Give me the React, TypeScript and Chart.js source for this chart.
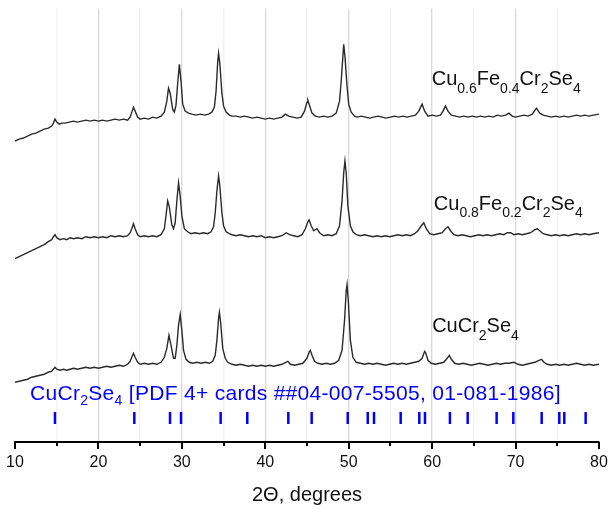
import React, { useEffect, useRef } from "react";
import { Chart, registerables } from "chart.js";
Chart.register(...registerables);

// ---- Data (2θ in degrees, intensity in arbitrary units incl. vertical offset) ----
const TT_A = [10.0,10.5,11.0,11.5,12.0,12.5,13.0,13.5,14.0,14.4,14.6,14.8,15.0,15.3,15.6,16.0,16.5,17.0,17.5,18.0,18.5,19.0,19.5,20.0,20.5,21.0,21.5,22.0,22.5,23.0,23.5,23.8,24.0,24.2,24.4,24.7,25.0,25.5,26.0,26.5,27.0,27.5,27.9,28.2,28.4,28.6,28.9,29.1,29.3,29.5,29.7,29.9,30.1,30.4,30.8,31.2,31.7,32.2,32.7,33.2,33.6,33.9,34.1,34.3,34.4,34.55,34.8,35.0,35.3,35.7,36.0,36.5,37.0,37.5,38.0,38.5,39.0,39.5,40.0,40.5,41.0,41.5,42.0,42.4,42.8,43.3,43.8,44.3,44.7,45.0,45.1,45.3,45.6,46.0,46.5,47.0,47.5,48.0,48.5,48.9,49.1,49.3,49.4,49.55,49.8,50.0,50.3,50.7,51.0,51.5,52.0,52.5,53.0,53.5,54.0,54.5,55.0,55.5,56.0,56.5,57.0,57.5,58.0,58.4,58.8,59.1,59.5,60.0,60.5,61.0,61.3,61.6,61.9,62.3,62.8,63.3,63.8,64.3,64.8,65.3,65.8,66.3,66.8,67.3,67.8,68.3,68.8,69.2,69.6,70.0,70.5,71.0,71.5,72.0,72.5,72.9,73.3,73.8,74.3,74.8,75.3,75.8,76.3,76.8,77.3,77.8,78.3,78.8,79.3,80.0];
const I_A = [302,304,305,307,309,310,312,314,315,317,320,324,321,319,320,320,321,322,321,322,323,322,323,322,323,322,323,324,323,324,323,326,331,336,332,326,324,325,324,326,325,327,331,342,355,350,334,331,338,360,379,362,339,332,330,329,328,329,328,329,331,336,352,382,390,380,350,337,331,328,327,327,326,327,326,325,326,325,324,325,324,325,326,329,327,326,325,326,332,341,343,338,330,327,326,327,326,327,330,342,362,387,399,387,357,339,331,327,326,327,326,325,326,327,326,325,326,327,326,327,326,327,328,332,339,332,327,328,327,328,332,337,332,328,327,326,327,326,327,326,327,326,327,326,328,327,328,330,327,326,327,328,327,329,335,330,328,327,326,327,326,327,326,327,328,327,328,327,328,329];

const TT_B = [10.0,10.5,11.0,11.5,12.0,12.5,13.0,13.5,14.0,14.4,14.6,14.8,15.0,15.4,15.8,16.2,16.6,17.0,17.5,18.0,18.5,19.0,19.5,20.0,20.5,21.0,21.5,22.0,22.5,23.0,23.5,23.8,24.0,24.2,24.4,24.7,25.0,25.5,26.0,26.5,27.0,27.5,27.9,28.1,28.3,28.5,28.8,29.0,29.2,29.4,29.6,29.8,30.0,30.3,30.7,31.1,31.6,32.1,32.6,33.1,33.5,33.8,34.0,34.2,34.4,34.55,34.8,35.0,35.3,35.7,36.0,36.5,37.0,37.5,38.0,38.5,39.0,39.5,40.0,40.5,41.0,41.5,42.0,42.5,42.9,43.4,43.9,44.4,44.8,45.1,45.25,45.5,45.8,46.0,46.2,46.5,47.0,47.5,48.0,48.5,48.9,49.2,49.4,49.55,49.7,49.9,50.2,50.5,50.9,51.4,51.9,52.4,52.9,53.4,53.9,54.4,54.9,55.4,55.9,56.4,56.9,57.4,57.9,58.3,58.7,59.0,59.3,59.7,60.2,60.7,61.2,61.6,61.9,62.2,62.6,63.1,63.6,64.1,64.6,65.1,65.6,66.1,66.6,67.1,67.6,68.1,68.6,69.0,69.4,69.8,70.3,70.8,71.3,71.8,72.3,72.6,72.9,73.3,73.8,74.3,74.8,75.3,75.8,76.3,76.8,77.3,77.8,78.3,78.8,79.3,80.0];
const I_B = [184,186,188,190,192,194,196,198,201,203,206,208,205,203,204,203,205,204,205,204,206,205,206,205,206,205,207,206,207,206,207,210,214,219,214,208,206,207,206,207,206,208,214,227,242,236,218,214,220,242,260,247,227,214,211,209,210,209,210,209,211,216,230,252,267,257,230,217,211,209,208,207,208,207,206,207,206,207,205,206,205,206,207,210,208,207,206,208,214,221,223,217,212,213,214,210,207,208,207,209,217,242,270,282,270,237,217,211,208,207,208,207,206,207,206,207,206,207,208,207,208,207,209,212,217,220,214,209,208,209,210,214,216,212,208,207,208,207,206,207,208,207,208,207,208,209,208,210,210,208,209,208,209,210,213,214,212,209,208,207,208,207,208,207,208,209,208,209,208,209,210];

const TT_C = [10.0,10.5,11.0,11.5,12.0,12.5,13.0,13.5,14.0,14.4,14.6,14.8,15.0,15.4,15.8,16.2,16.6,17.0,17.5,18.0,18.5,19.0,19.5,20.0,20.5,21.0,21.5,22.0,22.5,23.0,23.5,23.8,24.0,24.2,24.4,24.7,25.0,25.5,26.0,26.5,27.0,27.5,27.9,28.2,28.45,28.7,29.0,29.2,29.4,29.6,29.8,30.0,30.2,30.5,30.9,31.3,31.8,32.3,32.8,33.3,33.7,34.0,34.2,34.4,34.5,34.65,34.9,35.2,35.5,36.0,36.5,37.0,37.5,38.0,38.5,39.0,39.5,40.0,40.5,41.0,41.5,42.0,42.7,43.0,43.5,44.0,44.5,45.0,45.3,45.4,45.6,45.9,46.3,46.8,47.3,47.8,48.3,48.8,49.2,49.5,49.7,49.8,49.95,50.2,50.5,50.9,51.4,51.9,52.4,52.9,53.4,53.9,54.4,54.9,55.4,55.9,56.4,56.9,57.4,57.9,58.4,58.8,59.1,59.2,59.5,59.9,60.4,60.9,61.4,61.8,62.05,62.3,62.7,63.2,63.7,64.2,64.7,65.2,65.7,66.2,66.7,67.2,67.7,68.2,68.7,69.2,69.8,70.3,70.8,71.3,71.8,72.3,72.8,73.1,73.4,73.8,74.3,74.8,75.3,75.8,76.3,76.8,77.3,77.8,78.3,78.8,79.3,80.0];
const I_C = [60,61,62,63,65,66,67,68,70,71,73,75,73,72,73,72,73,74,73,74,75,74,75,74,75,76,75,76,77,76,78,81,85,89,85,80,78,79,78,79,78,80,85,94,107,97,84,84,97,117,128,112,92,83,80,79,80,79,80,79,81,87,102,124,130,120,94,84,80,78,77,78,77,76,77,76,77,76,77,76,77,78,81,78,77,78,79,84,91,92,87,81,79,78,79,78,79,82,92,122,152,158,142,102,85,80,79,78,79,78,79,78,77,78,79,78,79,78,79,80,81,84,91,90,82,79,78,79,80,84,87,83,79,78,79,78,77,78,79,78,77,78,79,78,79,79,80,78,77,78,79,80,82,83,80,78,77,78,77,78,77,78,79,78,77,78,77,78];

// Reference (PDF card) reflection positions, 2θ
const REF_PEAKS = [14.79,24.3,28.58,29.9,34.65,37.84,42.76,45.56,49.88,52.28,53.03,56.23,58.46,59.14,62.13,64.26,67.73,69.73,73.13,75.24,75.84,78.4];
const REF_LEVEL = 24;

const X_MIN = 10;
const X_MAX = 80;
const X_STEP = 5;
const X_LABEL_STEP = 10;

type Part = [string, boolean];
const LABEL_A: Part[] = [["Cu", false], ["0.6", true], ["Fe", false], ["0.4", true], ["Cr", false], ["2", true], ["Se", false], ["4", true]];
const LABEL_B: Part[] = [["Cu", false], ["0.8", true], ["Fe", false], ["0.2", true], ["Cr", false], ["2", true], ["Se", false], ["4", true]];
const LABEL_C: Part[] = [["CuCr", false], ["2", true], ["Se", false], ["4", true]];
const LABEL_REF: Part[] = [["CuCr", false], ["2", true], ["Se", false], ["4", true], [" [PDF 4+ cards ##04-007-5505, 01-081-1986]", false]];

const FONT = "'Liberation Sans', Arial, Helvetica, sans-serif";

const labelStyle = { color: "#111", size: 20, subSize: 14, shift: 7.5, spacing: 0 };
const refStyle = { color: "#0000ff", size: 21, subSize: 14, shift: 4.5, spacing: 0.3 };

const annotations = [
  { parts: LABEL_A, x: 59.95, y: 358, style: labelStyle },
  { parts: LABEL_B, x: 60.2, y: 233, style: labelStyle },
  { parts: LABEL_C, x: 60.0, y: 110, style: labelStyle },
  { parts: LABEL_REF, x: 11.8, y: 42, style: refStyle },
];

function drawParts(ctx: CanvasRenderingContext2D, parts: Part[], x: number, y: number, st: typeof labelStyle) {
  let cx = x;
  ctx.fillStyle = st.color;
  ctx.textBaseline = "alphabetic";
  ctx.textAlign = "left";
  (ctx as any).letterSpacing = `${st.spacing}px`;
  for (const [t, sub] of parts) {
    ctx.font = sub ? `${st.subSize}px ${FONT}` : `${st.size}px ${FONT}`;
    ctx.fillText(t, cx, sub ? y + st.shift : y);
    cx += ctx.measureText(t).width;
  }
  (ctx as any).letterSpacing = "0px";
}

const overlayPlugin = {
  id: "overlay",
  afterDraw(chart: any) {
    const ctx = chart.ctx as CanvasRenderingContext2D;
    const xs = chart.scales.x;
    const ys = chart.scales.y;
    const bottom = chart.chartArea.bottom;
    ctx.save();
    ctx.strokeStyle = "#000";
    ctx.lineWidth = 2;
    for (let v = X_MIN; v <= X_MAX; v += X_STEP) {
      const px = Math.round(xs.getPixelForValue(v));
      const len = v % X_LABEL_STEP === 0 ? 7 : 4;
      ctx.beginPath();
      ctx.moveTo(px, bottom);
      ctx.lineTo(px, bottom + len);
      ctx.stroke();
    }
    for (const a of annotations) {
      drawParts(ctx, a.parts, xs.getPixelForValue(a.x), ys.getPixelForValue(a.y), a.style);
    }
    ctx.restore();
  },
};

export default function App() {
  const ref = useRef<HTMLCanvasElement | null>(null);
  useEffect(() => {
    if (!ref.current) return;
    const mk = (xs: number[], ys: number[]) => xs.map((x, i) => ({ x, y: ys[i] }));
    const line = (data: any) => ({
      data,
      showLine: true,
      pointRadius: 0,
      borderColor: "#2a2a2a",
      borderWidth: 1.4,
      tension: 0,
    });
    const chart = new Chart(ref.current, {
      type: "scatter",
      data: {
        datasets: [
          line(mk(TT_A, I_A)),
          line(mk(TT_B, I_B)),
          line(mk(TT_C, I_C)),
          {
            data: REF_PEAKS.map((x) => ({ x, y: REF_LEVEL })),
            showLine: false,
            pointStyle: "line",
            rotation: 90,
            pointRadius: 6,
            borderWidth: 2.5,
            borderColor: "#0000ff",
            backgroundColor: "#0000ff",
          } as any,
        ],
      },
      options: {
        animation: false,
        responsive: false,
        layout: { padding: { left: 15, right: 10, top: 7, bottom: 0 } },
        plugins: { legend: { display: false }, tooltip: { enabled: false } },
        scales: {
          x: {
            type: "linear",
            min: X_MIN,
            max: X_MAX,
            afterFit: (s: any) => {
              s.height = 68;
              s.paddingLeft = 0;
              s.paddingRight = 0;
            },
            ticks: {
              stepSize: X_STEP,
              autoSkip: false,
              maxRotation: 0,
              padding: 11,
              color: "#111",
              font: { family: FONT, size: 16 },
              callback: (v: any) => (Number(v) % X_LABEL_STEP === 0 ? String(v) : ""),
            },
            grid: {
              drawTicks: false,
              lineWidth: 1.3,
              color: (c: any) => {
                const v = c.tick ? c.tick.value : 0;
                if (v === X_MIN || v === X_MAX) return "rgba(0,0,0,0)";
                return v % X_LABEL_STEP === 0 ? "#d9d9d9" : "#f2f2f2";
              },
            },
            border: { display: true, color: "#000", width: 2 },
            title: {
              display: true,
              text: "2Θ, degrees",
              color: "#111",
              font: { family: FONT, size: 20 },
              padding: { top: 0, bottom: 3 },
            },
          },
          y: {
            type: "linear",
            display: false,
            min: 0,
            max: 435,
          },
        },
      },
      plugins: [overlayPlugin],
    });
    return () => chart.destroy();
  }, []);
  return (
    <div style={{ position: "fixed", left: 0, top: 0, width: 609, height: 510, background: "#fff" }}>
      <canvas ref={ref} width={609} height={510} style={{ display: "block" }} />
    </div>
  );
}
